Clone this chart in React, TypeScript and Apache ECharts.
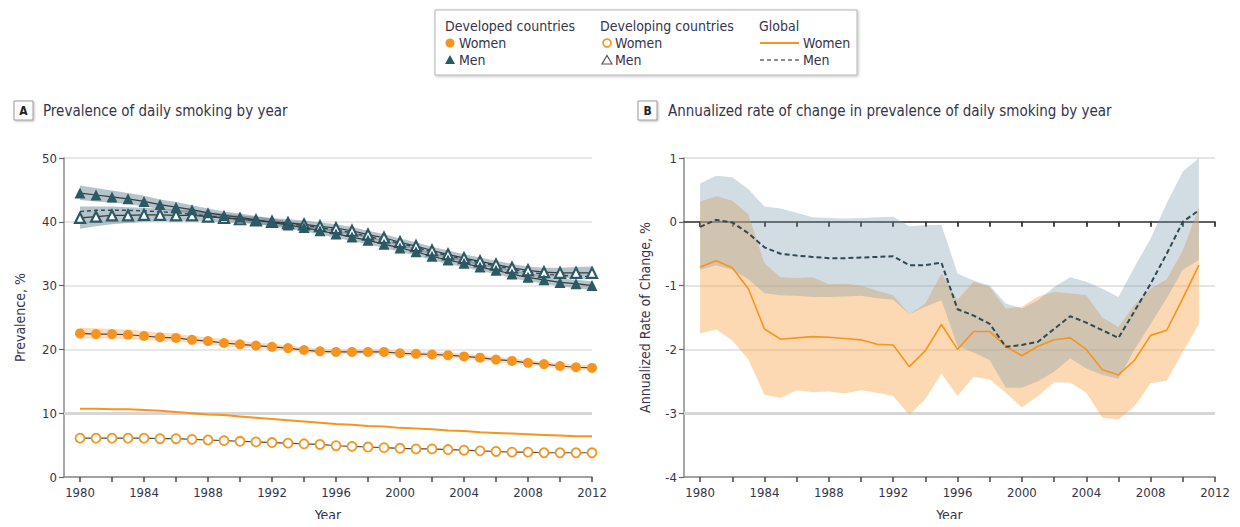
import React, { useEffect, useRef } from "react";
import * as echarts from "echarts";

const yearsA = Array.from({ length: 33 }, (_, i) => 1980 + i);
const yearsB = Array.from({ length: 32 }, (_, i) => 1980 + i);
const tickYears = [1980, 1982, 1984, 1986, 1988, 1990, 1992, 1994, 1996, 1998, 2000, 2002, 2004, 2006, 2008, 2010, 2012];
const labelYears = [1980, 1984, 1988, 1992, 1996, 2000, 2004, 2008, 2012];

// Panel A: prevalence of daily smoking, %
const devMen = [44.5, 44.2, 43.9, 43.6, 43.2, 42.7, 42.3, 41.9, 41.4, 41.0, 40.7, 40.3, 39.9, 39.5, 39.1, 38.6, 38.1, 37.6, 37.1, 36.5, 35.9, 35.3, 34.6, 34.0, 33.5, 32.9, 32.4, 31.8, 31.3, 30.9, 30.5, 30.3, 30.0];
const devMenLo = [43.4, 43.2, 43.0, 42.8, 42.4, 42.0, 41.6, 41.3, 40.8, 40.4, 40.1, 39.7, 39.3, 38.9, 38.5, 38.0, 37.5, 37.0, 36.5, 35.9, 35.3, 34.7, 34.0, 33.4, 32.9, 32.3, 31.8, 31.2, 30.7, 30.3, 29.9, 29.6, 29.3];
const devMenHi = [45.7, 45.3, 44.9, 44.5, 44.1, 43.5, 43.1, 42.6, 42.1, 41.6, 41.3, 40.9, 40.5, 40.1, 39.7, 39.2, 38.7, 38.2, 37.7, 37.1, 36.5, 35.9, 35.2, 34.6, 34.1, 33.5, 33.0, 32.4, 31.9, 31.5, 31.1, 30.9, 30.7];
const devingMen = [40.6, 40.8, 41.0, 41.0, 41.1, 41.1, 41.0, 41.0, 40.8, 40.6, 40.4, 40.2, 40.0, 39.8, 39.6, 39.3, 39.0, 38.6, 38.0, 37.5, 36.8, 36.2, 35.5, 34.9, 34.3, 33.8, 33.3, 32.8, 32.4, 32.1, 32.0, 32.0, 32.0];
const devingMenLo = [38.9, 39.3, 39.6, 39.8, 40.0, 40.1, 40.1, 40.2, 40.1, 39.9, 39.8, 39.6, 39.4, 39.2, 39.0, 38.7, 38.4, 38.0, 37.4, 36.9, 36.2, 35.6, 34.9, 34.3, 33.7, 33.2, 32.7, 32.2, 31.7, 31.4, 31.2, 31.1, 31.0];
const devingMenHi = [42.4, 42.4, 42.4, 42.3, 42.2, 42.1, 41.9, 41.8, 41.5, 41.3, 41.0, 40.8, 40.6, 40.4, 40.2, 39.9, 39.6, 39.2, 38.6, 38.1, 37.4, 36.8, 36.1, 35.5, 34.9, 34.4, 33.9, 33.4, 33.0, 32.8, 32.8, 32.9, 33.0];
const globalMenA = [41.6, 41.8, 41.8, 41.8, 41.7, 41.6, 41.4, 41.2, 40.9, 40.7, 40.4, 40.2, 39.9, 39.7, 39.4, 39.1, 38.7, 38.3, 37.7, 37.2, 36.6, 36.0, 35.3, 34.7, 34.1, 33.6, 33.1, 32.6, 32.1, 31.8, 31.6, 31.5, 31.4];
const devWomen = [22.5, 22.4, 22.4, 22.3, 22.1, 21.9, 21.8, 21.5, 21.3, 21.0, 20.8, 20.6, 20.4, 20.2, 19.9, 19.7, 19.6, 19.6, 19.6, 19.6, 19.4, 19.3, 19.2, 19.1, 18.9, 18.7, 18.4, 18.2, 17.9, 17.7, 17.4, 17.2, 17.1];
const devWomenLo = [21.7, 21.7, 21.7, 21.6, 21.5, 21.3, 21.2, 21.0, 20.8, 20.5, 20.3, 20.2, 20.0, 19.8, 19.5, 19.3, 19.2, 19.2, 19.2, 19.2, 19.0, 18.9, 18.8, 18.7, 18.5, 18.3, 18.0, 17.8, 17.5, 17.3, 17.0, 16.8, 16.7];
const devWomenHi = [23.4, 23.3, 23.2, 23.1, 22.9, 22.6, 22.5, 22.1, 21.9, 21.6, 21.4, 21.1, 20.9, 20.6, 20.3, 20.1, 20.0, 20.0, 20.0, 20.0, 19.8, 19.7, 19.6, 19.5, 19.3, 19.1, 18.8, 18.6, 18.3, 18.1, 17.8, 17.6, 17.5];
const devingWomen = [6.1, 6.1, 6.1, 6.1, 6.1, 6.0, 6.0, 5.9, 5.8, 5.7, 5.6, 5.5, 5.4, 5.3, 5.2, 5.1, 4.9, 4.8, 4.7, 4.6, 4.5, 4.4, 4.4, 4.3, 4.2, 4.1, 4.0, 3.9, 3.9, 3.8, 3.8, 3.8, 3.8];
const globalWomenA = [10.7, 10.7, 10.6, 10.6, 10.5, 10.4, 10.2, 10.0, 9.8, 9.7, 9.5, 9.3, 9.1, 8.9, 8.7, 8.5, 8.3, 8.2, 8.0, 7.9, 7.7, 7.6, 7.5, 7.3, 7.2, 7.0, 6.9, 6.8, 6.7, 6.6, 6.5, 6.4, 6.4];

// Panel B: annualized rate of change, %
const rateWomen = [-0.71, -0.61, -0.72, -1.05, -1.68, -1.84, -1.82, -1.8, -1.81, -1.83, -1.85, -1.92, -1.93, -2.27, -2.02, -1.61, -2.0, -1.72, -1.72, -1.95, -2.1, -1.95, -1.85, -1.82, -2.0, -2.32, -2.4, -2.17, -1.78, -1.7, -1.2, -0.68];
const rateWomenLo = [-1.75, -1.69, -1.86, -2.16, -2.71, -2.76, -2.64, -2.67, -2.66, -2.69, -2.64, -2.68, -2.73, -3.03, -2.78, -2.38, -2.73, -2.43, -2.47, -2.68, -2.91, -2.73, -2.52, -2.52, -2.68, -3.07, -3.1, -2.89, -2.53, -2.49, -2.04, -1.6];
const rateWomenHi = [0.32, 0.4, 0.33, 0.12, -0.65, -0.87, -0.88, -0.87, -0.98, -0.97, -1.0, -1.08, -1.15, -1.45, -1.28, -0.81, -1.22, -0.94, -1.02, -1.36, -1.33, -1.17, -1.1, -1.12, -1.15, -1.5, -1.65, -1.3, -1.05, -0.9, -0.45, 0.23];
const rateMen = [-0.08, 0.03, -0.01, -0.18, -0.4, -0.5, -0.53, -0.55, -0.57, -0.57, -0.56, -0.55, -0.54, -0.68, -0.68, -0.64, -1.37, -1.47, -1.6, -1.96, -1.93, -1.88, -1.68, -1.48, -1.58, -1.7, -1.82, -1.4, -0.97, -0.5, 0.0, 0.18];
const rateMenLo = [-0.75, -0.68, -0.75, -0.9, -1.12, -1.15, -1.16, -1.18, -1.18, -1.17, -1.16, -1.2, -1.22, -1.45, -1.33, -1.23, -1.95, -2.05, -2.17, -2.6, -2.6, -2.5, -2.35, -2.14, -2.3, -2.4, -2.46, -2.0, -1.6, -1.2, -0.75, -0.6];
const rateMenHi = [0.6, 0.72, 0.7, 0.51, 0.24, 0.21, 0.14, 0.07, 0.06, 0.05, 0.06, 0.07, 0.08, -0.07, -0.05, -0.05, -0.81, -0.92, -1.0, -1.28, -1.36, -1.23, -1.02, -0.87, -0.94, -1.05, -1.18, -0.71, -0.26, 0.29, 0.79, 1.0];

const FONT = "'Liberation Sans Narrow', 'DejaVu Sans Condensed', 'Roboto Condensed', 'Liberation Sans', sans-serif";
const TXT = "#35344a";
const ORANGE = "#f7941d";
const TEAL = "#2b5a66";
const DARK = "#2f4a55";

const pairs = (xs: number[], ys: number[]) => xs.map((x, i) => [x, ys[i]]);

// Uncertainty band drawn as a single polygon through the axes' scales
function band(xs: number[], lo: number[], hi: number[], color: string, xi: number, yi: number, z: number) {
  return {
    type: "custom", xAxisIndex: xi, yAxisIndex: yi, silent: true, z,
    data: xs.map((x, i) => [x, lo[i], hi[i]]),
    encode: { x: 0, y: [1, 2] },
    clip: true,
    renderItem: (params: any, api: any) => {
      if (params.dataIndex !== 0) return null;
      const upper = xs.map((x, i) => api.coord([x, hi[i]]));
      const lower = xs.map((x, i) => api.coord([x, lo[i]])).reverse();
      return {
        type: "polygon",
        shape: { points: upper.concat(lower) },
        style: { fill: color, stroke: "none" },
      };
    },
  };
}

function xAxisCfg(grid: number) {
  return {
    gridIndex: grid, type: "value", min: 1979, max: 2012,
    axisLine: { show: true, onZero: false, lineStyle: { color: "#8a8a8a", width: 1.5 } },
    axisTick: { show: true, customValues: tickYears, length: 5, lineStyle: { color: "#444", width: 1.5 } },
    axisLabel: { customValues: labelYears, color: TXT, fontSize: 13, fontFamily: FONT, margin: 9, formatter: (v: number) => String(v) },
    splitLine: { show: false },
    name: "Year", nameLocation: "middle", nameGap: 31,
    nameTextStyle: { color: TXT, fontSize: 14, fontFamily: FONT },
  };
}

export default function App() {
  const ref = useRef<HTMLDivElement>(null);
  useEffect(() => {
    const chart = echarts.init(ref.current!, null, { renderer: "svg" });
    const option: any = {
      animation: false,
      backgroundColor: "#ffffff",
      textStyle: { fontFamily: FONT },
      grid: [
        { left: 64, right: 648, top: 158, bottom: 50, containLabel: false, outerBoundsMode: "none" },
        { left: 684, right: 25, top: 158, bottom: 50, containLabel: false, outerBoundsMode: "none" },
      ],
      xAxis: [
        xAxisCfg(0),
        xAxisCfg(1),
        {
          gridIndex: 1, type: "value", min: 1979, max: 2012, position: "top",
          axisLine: { show: true, onZero: true, lineStyle: { color: "#333", width: 1.5 } },
          axisTick: { show: true, inside: true, customValues: tickYears, length: 5, lineStyle: { color: "#333", width: 1.8 } },
          axisLabel: { show: false }, splitLine: { show: false }, z: 0,
        },
      ],
      yAxis: [
        {
          gridIndex: 0, type: "value", min: 0, max: 50, interval: 10,
          axisLine: { show: true, lineStyle: { color: "#8a8a8a", width: 1.5 } },
          axisTick: { show: true, length: 5, lineStyle: { color: "#666", width: 1.2 } },
          axisLabel: { color: TXT, fontSize: 13, fontFamily: FONT, margin: 7 },
          splitLine: { show: true, lineStyle: { color: "#e0e0e0", width: 1.5 } },
          name: "Prevalence, %", nameLocation: "middle", nameGap: 37, nameRotate: 90,
          nameTextStyle: { color: TXT, fontSize: 14, fontFamily: FONT },
        },
        {
          gridIndex: 1, type: "value", min: -4, max: 1, interval: 1,
          axisLine: { show: true, lineStyle: { color: "#8a8a8a", width: 1.5 } },
          axisTick: { show: true, length: 5, lineStyle: { color: "#666", width: 1.2 } },
          axisLabel: { color: TXT, fontSize: 13, fontFamily: FONT, margin: 7 },
          splitLine: { show: true, lineStyle: { color: "#dcdcdc", width: 1.5 } },
          name: "Annualized Rate of Change, %", nameLocation: "middle", nameGap: 32, nameRotate: 90,
          nameTextStyle: { color: TXT, fontSize: 14, fontFamily: FONT },
        },
      ],
      series: [
        // Panel A bands
        band(yearsA, devWomenLo, devWomenHi, "rgba(250,160,80,0.38)", 0, 0, 2),
        band(yearsA, devMenLo, devMenHi, "rgba(60,100,115,0.38)", 0, 0, 2),
        band(yearsA, devingMenLo, devingMenHi, "rgba(60,100,115,0.38)", 0, 0, 2),
        {
          name: "Global women A", type: "line", xAxisIndex: 0, yAxisIndex: 0, data: pairs(yearsA, globalWomenA),
          symbol: "none", lineStyle: { color: ORANGE, width: 2 }, z: 3,
          markLine: {
            silent: true, symbol: "none", label: { show: false },
            lineStyle: { color: "#d6d6d6", width: 3, type: "solid" }, data: [{ yAxis: 10 }], z: 1,
          },
        },
        {
          name: "Global men A", type: "line", xAxisIndex: 0, yAxisIndex: 0, data: pairs(yearsA, globalMenA),
          symbol: "none", lineStyle: { color: DARK, width: 1.4, type: [4, 3] }, z: 3,
        },
        {
          name: "Developed women", type: "line", xAxisIndex: 0, yAxisIndex: 0, data: pairs(yearsA, devWomen),
          symbol: "circle", symbolSize: 10, itemStyle: { color: ORANGE, borderWidth: 0 },
          lineStyle: { color: "#4a4a4a", width: 1.2 }, z: 4,
        },
        {
          name: "Developing women", type: "line", xAxisIndex: 0, yAxisIndex: 0, data: pairs(yearsA, devingWomen),
          symbol: "circle", symbolSize: 9, itemStyle: { color: "#ffffff", borderColor: ORANGE, borderWidth: 1.8 },
          lineStyle: { color: "#4a4a4a", width: 1.2 }, z: 4,
        },
        {
          name: "Developing men", type: "line", xAxisIndex: 0, yAxisIndex: 0, data: pairs(yearsA, devingMen),
          symbol: "triangle", symbolSize: 10, itemStyle: { color: "#ffffff", borderColor: TEAL, borderWidth: 2.2 },
          lineStyle: { color: "#3a3a3a", width: 1.2 }, z: 4,
        },
        {
          name: "Developed men", type: "line", xAxisIndex: 0, yAxisIndex: 0, data: pairs(yearsA, devMen),
          symbol: "triangle", symbolSize: 11, itemStyle: { color: TEAL },
          lineStyle: { color: "#3a3a3a", width: 1.2 }, z: 5,
        },
        // Panel B bands
        band(yearsB, rateWomenLo, rateWomenHi, "rgba(250,170,86,0.45)", 1, 1, 2),
        band(yearsB, rateMenLo, rateMenHi, "rgba(114,149,168,0.32)", 1, 1, 2),
        {
          name: "Global women B", type: "line", xAxisIndex: 1, yAxisIndex: 1, data: pairs(yearsB, rateWomen),
          symbol: "none", lineStyle: { color: ORANGE, width: 1.6 }, z: 4,
          markLine: {
            silent: true, symbol: "none", label: { show: false },
            lineStyle: { color: "#d6d6d6", width: 3, type: "solid" }, data: [{ yAxis: -3 }], z: 1,
          },
        },
        {
          name: "Global men B", type: "line", xAxisIndex: 1, yAxisIndex: 1, data: pairs(yearsB, rateMen),
          symbol: "none", lineStyle: { color: DARK, width: 2, type: [5, 3] }, z: 4,
        },
      ],
      graphic: [
        // legend box
        {
          type: "rect", shape: { x: 435, y: 10, width: 422, height: 65 },
          style: { fill: "#fff", stroke: "#b5b5b5", lineWidth: 1, shadowBlur: 3, shadowColor: "rgba(0,0,0,0.25)", shadowOffsetX: 1, shadowOffsetY: 1 },
          z: 10,
        },
        { type: "text", x: 445, y: 26, z: 11, style: { text: "Developed countries", fill: TXT, font: `14px ${FONT}`, verticalAlign: "middle" } },
        { type: "circle", shape: { cx: 450, cy: 43, r: 4.5 }, style: { fill: ORANGE }, z: 11 },
        { type: "text", x: 459, y: 43, z: 11, style: { text: "Women", fill: TXT, font: `14px ${FONT}`, verticalAlign: "middle" } },
        { type: "polygon", shape: { points: [[450, 55], [455, 64], [445, 64]] }, style: { fill: TEAL }, z: 11 },
        { type: "text", x: 459, y: 60, z: 11, style: { text: "Men", fill: TXT, font: `14px ${FONT}`, verticalAlign: "middle" } },
        { type: "text", x: 600, y: 26, z: 11, style: { text: "Developing countries", fill: TXT, font: `14px ${FONT}`, verticalAlign: "middle" } },
        { type: "circle", shape: { cx: 607, cy: 43, r: 4 }, style: { fill: "#fff", stroke: ORANGE, lineWidth: 1.6 }, z: 11 },
        { type: "text", x: 615, y: 43, z: 11, style: { text: "Women", fill: TXT, font: `14px ${FONT}`, verticalAlign: "middle" } },
        { type: "polygon", shape: { points: [[607, 55.5], [612, 64], [602, 64]] }, style: { fill: "#fff", stroke: "#555", lineWidth: 1.2 }, z: 11 },
        { type: "text", x: 615, y: 60, z: 11, style: { text: "Men", fill: TXT, font: `14px ${FONT}`, verticalAlign: "middle" } },
        { type: "text", x: 759, y: 26, z: 11, style: { text: "Global", fill: TXT, font: `14px ${FONT}`, verticalAlign: "middle" } },
        { type: "line", shape: { x1: 760, y1: 43, x2: 799, y2: 43 }, style: { stroke: ORANGE, lineWidth: 2 }, z: 11 },
        { type: "text", x: 803, y: 43, z: 11, style: { text: "Women", fill: TXT, font: `14px ${FONT}`, verticalAlign: "middle" } },
        { type: "line", shape: { x1: 760, y1: 60, x2: 799, y2: 60 }, style: { stroke: "#666", lineWidth: 1.5, lineDash: [4, 3] }, z: 11 },
        { type: "text", x: 803, y: 60, z: 11, style: { text: "Men", fill: TXT, font: `14px ${FONT}`, verticalAlign: "middle" } },
        // panel A title
        {
          type: "rect", shape: { x: 14, y: 101, width: 19, height: 19 },
          style: { fill: "#fff", stroke: "#9a9a9a", lineWidth: 1, shadowBlur: 2, shadowColor: "rgba(0,0,0,0.25)", shadowOffsetX: 1, shadowOffsetY: 1 }, z: 10,
        },
        { type: "text", x: 23.5, y: 111, z: 11, style: { text: "A", fill: "#222", font: `bold 12px ${FONT}`, align: "center", verticalAlign: "middle" } },
        { type: "text", x: 43, y: 111, z: 11, style: { text: "Prevalence of daily smoking by year", fill: TXT, font: `15px ${FONT}`, verticalAlign: "middle" } },
        // panel B title
        {
          type: "rect", shape: { x: 638, y: 101, width: 19, height: 19 },
          style: { fill: "#fff", stroke: "#9a9a9a", lineWidth: 1, shadowBlur: 2, shadowColor: "rgba(0,0,0,0.25)", shadowOffsetX: 1, shadowOffsetY: 1 }, z: 10,
        },
        { type: "text", x: 647.5, y: 111, z: 11, style: { text: "B", fill: "#222", font: `bold 12px ${FONT}`, align: "center", verticalAlign: "middle" } },
        { type: "text", x: 668, y: 111, z: 11, style: { text: "Annualized rate of change in prevalence of daily smoking by year", fill: TXT, font: `15px ${FONT}`, verticalAlign: "middle" } },
      ],
    };
    chart.setOption(option);
    return () => chart.dispose();
  }, []);
  return <div ref={ref} style={{ width: 1240, height: 527, margin: -8 }} />;
}
